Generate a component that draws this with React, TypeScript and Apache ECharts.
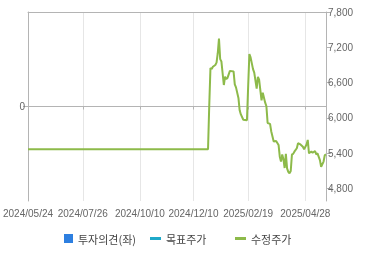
import React, { useEffect, useRef } from 'react';
import * as echarts from 'echarts';

// trading-day index axis
const dayCount = 246;
const categories = Array.from({ length: dayCount }, (_, i) => String(i));
const tickIndex = [0, 45, 92, 136, 181, 228];
const tickLabels = ['2024/05/24', '2024/07/26', '2024/10/10', '2024/12/10', '2025/02/19', '2025/04/28'];
const priceTicks = [4800, 5400, 6000, 6600, 7200, 7800];

// 수정주가 : [trading-day index, price]
const priceDays = [
  0, 148, 149, 150, 151, 152, 154, 155, 156, 157, 158, 159, 160, 161, 162, 163, 164, 166, 169, 170,
  171, 173, 174, 175, 177, 180, 181, 182, 183, 185, 186, 188, 189, 190, 192, 193, 195, 196, 197, 199,
  200, 202, 204, 206, 207, 208, 209, 210, 211, 212, 213, 214, 215, 216, 217, 218, 219, 221, 222, 224,
  226, 227, 229, 230, 231, 233, 234, 236, 237, 238, 240, 241, 243, 244, 245,
];
const priceValues = [
  5470, 5470, 6210, 6850, 6830, 6870, 6900, 6940, 7100, 7350, 7000, 6960, 6760, 6560, 6700, 6660, 6680, 6800, 6790, 6570,
  6520, 6340, 6130, 6060, 5970, 5960, 6540, 7085, 7030, 6830, 6770, 6500, 6700, 6650, 6300, 6430, 6260, 6200, 5914, 5900,
  5770, 5600, 5610, 5542, 5342, 5260, 5380, 5300, 5150, 5390, 5143, 5085, 5060, 5100, 5380, 5390, 5428, 5486, 5571, 5550,
  5510, 5470, 5550, 5628, 5400, 5430, 5410, 5440, 5380, 5400, 5285, 5171, 5260, 5370, 5380,
];
const opinionValues: number[] = [];
const targetValues: number[] = [];

const axisGray = '#b4b4b4';
const gridGray = '#e6e6e6';
const labelColor = '#666666';
const latinFont = '"Liberation Sans", Arial, sans-serif';
const krFont = '"Noto Sans CJK KR", "Noto Sans", sans-serif';

const isTick = (idx: number) => tickIndex.includes(idx);

export default function App() {
  const ref = useRef<HTMLDivElement>(null);
  useEffect(() => {
    if (!ref.current) return;
    const chart = echarts.init(ref.current, undefined, { renderer: 'svg' });
    const legendText = { color: '#444', fontSize: 11, fontFamily: krFont };
    chart.setOption({
      animation: false,
      grid: { left: 27, right: 44, top: 12, bottom: 54 },
      legend: [
        { data: ['투자의견(좌)'], left: 59, top: 228, icon: 'rect', itemWidth: 9, itemHeight: 9, itemGap: 6, textStyle: legendText },
        { data: ['목표주가'], left: 145, top: 228, icon: 'rect', itemWidth: 11, itemHeight: 3, textStyle: legendText },
        { data: ['수정주가'], left: 230, top: 228, icon: 'rect', itemWidth: 11, itemHeight: 3, textStyle: legendText },
      ],
      xAxis: [
        {
          type: 'category',
          data: categories,
          boundaryGap: false,
          axisLine: { lineStyle: { color: axisGray } },
          axisTick: { show: true, interval: (i: number) => isTick(i), length: 3, lineStyle: { color: axisGray } },
          axisLabel: {
            interval: (i: number) => isTick(i),
            formatter: (v: string) => tickLabels[tickIndex.indexOf(Number(v))] ?? '',
            color: labelColor,
            fontSize: 10,
            fontFamily: latinFont,
            margin: 7,
            showMinLabel: true,
          },
          splitLine: { show: true, interval: (i: number) => isTick(i), lineStyle: { color: gridGray } },
        },
        {
          type: 'category',
          data: categories,
          boundaryGap: false,
          position: 'top',
          axisLine: { show: true, lineStyle: { color: axisGray } },
          axisTick: { show: false },
          axisLabel: { show: false },
          splitLine: { show: false },
        },
      ],
      yAxis: [
        {
          type: 'value',
          position: 'left',
          min: -1,
          max: 1,
          interval: 1,
          axisLine: { show: true, lineStyle: { color: axisGray } },
          axisTick: { show: true, length: 5, customValues: [0], lineStyle: { color: axisGray } },
          axisLabel: { customValues: [0], color: labelColor, fontSize: 10, fontFamily: latinFont, margin: 3 },
          splitLine: { show: true, lineStyle: { color: gridGray } },
        },
        {
          type: 'value',
          position: 'right',
          min: 4590,
          max: 7800,
          axisLine: { show: true, lineStyle: { color: axisGray } },
          axisTick: { show: true, length: 5, customValues: priceTicks, lineStyle: { color: axisGray } },
          axisLabel: {
            customValues: priceTicks,
            formatter: (v: number) => v.toLocaleString('en-US'),
            color: labelColor,
            fontSize: 10,
            fontFamily: latinFont,
            margin: 2,
          },
          splitLine: { show: false },
        },
      ],
      series: [
        { name: '투자의견(좌)', type: 'bar', yAxisIndex: 0, data: opinionValues, itemStyle: { color: '#2d7fe0' } },
        { name: '목표주가', type: 'line', yAxisIndex: 1, data: targetValues, showSymbol: false, lineStyle: { color: '#1fa9c9', width: 2 }, itemStyle: { color: '#1fa9c9' } },
        {
          name: '수정주가',
          type: 'line',
          yAxisIndex: 1,
          data: priceDays.map((d, i) => [d, priceValues[i]]),
          showSymbol: false,
          symbol: 'none',
          lineStyle: { color: '#8dba4a', width: 2 },
          itemStyle: { color: '#8dba4a' },
        },
      ],
    });
    return () => chart.dispose();
  }, []);
  return <div ref={ref} style={{ position: 'fixed', left: 0, top: 0, width: 370, height: 255 }} />;
}
